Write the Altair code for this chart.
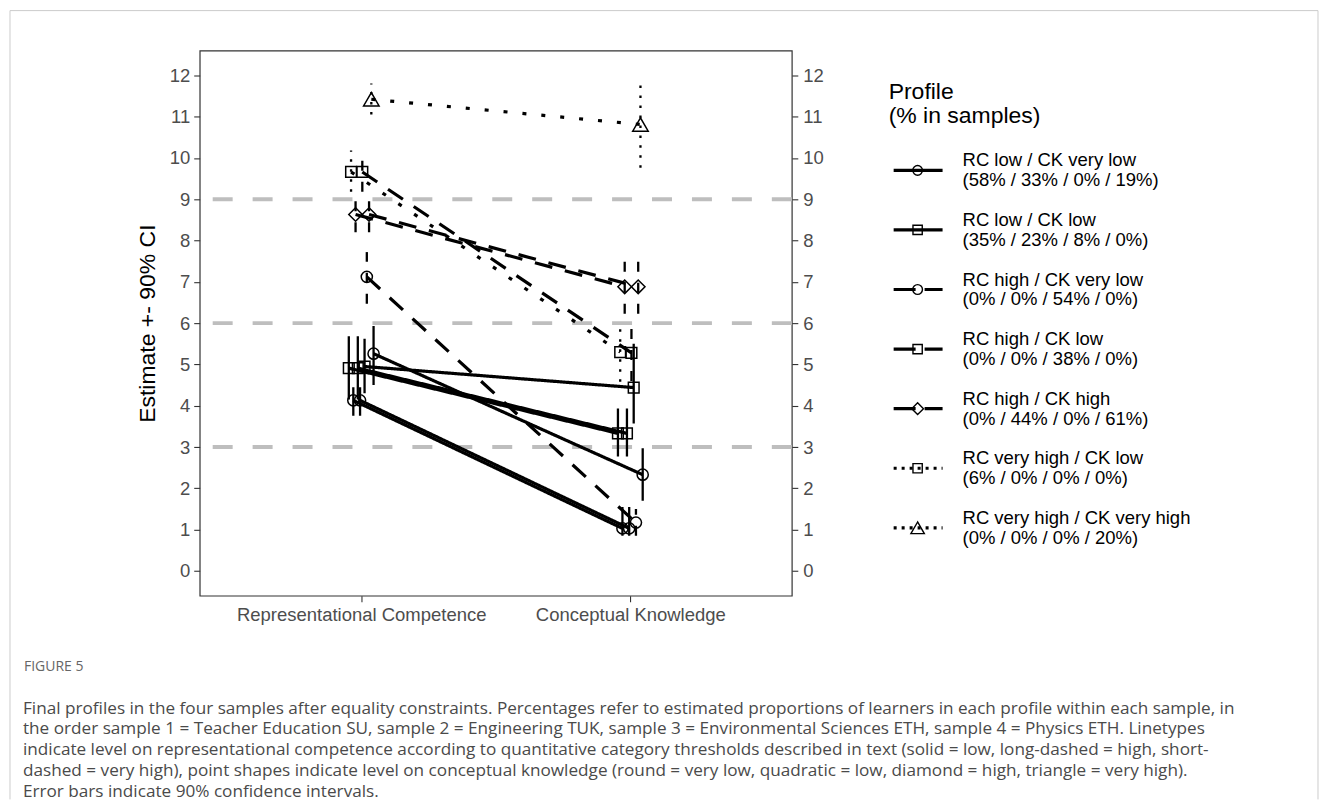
import altair as alt
import pandas as pd

# ---------------- data ----------------
measures = ["Representational Competence", "Conceptual Knowledge"]
profiles = [
    "RC low / CK very low",
    "RC low / CK low",
    "RC high / CK very low",
    "RC high / CK low",
    "RC high / CK high",
    "RC very high / CK low",
    "RC very high / CK very high",
]
profile_pct = [
    "(58% / 33% / 0% / 19%)",
    "(35% / 23% / 8% / 0%)",
    "(0% / 0% / 54% / 0%)",
    "(0% / 0% / 38% / 0%)",
    "(0% / 44% / 0% / 61%)",
    "(6% / 0% / 0% / 0%)",
    "(0% / 0% / 0% / 20%)",
]
profile_rc = ["low", "low", "high", "high", "high", "very high", "very high"]
profile_ck = ["very low", "low", "very low", "low", "high", "low", "very high"]

# one entry per profile x sample group (in dodge order)
grp_profile = [1, 5, 0, 4, 1, 0, 3, 1, 2, 4, 6, 0]
grp_sample = [1, 1, 1, 2, 2, 2, 3, 3, 3, 4, 4, 4]
rc_est = [4.91, 9.66, 4.13, 8.63, 4.91, 4.13, 9.66, 4.95, 7.12, 8.63, 11.42, 5.26]
rc_lo = [4.15, 9.18, 3.76, 8.20, 4.15, 3.76, 9.18, 4.30, 6.47, 8.20, 11.05, 4.50]
rc_hi = [5.68, 10.18, 4.45, 9.05, 5.68, 4.45, 10.15, 5.62, 7.72, 9.05, 11.80, 5.93]
ck_est = [3.33, 5.30, 1.03, 6.88, 3.33, 1.03, 5.28, 4.44, 1.17, 6.88, 10.81, 2.33]
ck_lo = [2.77, 4.58, 0.85, 6.23, 2.77, 0.85, 4.60, 3.57, 0.85, 6.23, 9.76, 1.70]
ck_hi = [3.93, 5.95, 1.55, 7.56, 3.93, 1.55, 6.00, 5.50, 1.50, 7.56, 11.86, 2.97]

thresholds = [3, 6, 9]
y_ticks = list(range(0, 13))
y_title = "Estimate +- 90% CI"
legend_title = ["Profile", "(% in samples)"]
caption_head = "FIGURE 5"
caption_lines = [
    "Final profiles in the four samples after equality constraints. Percentages refer to estimated proportions of learners in each profile within each sample, in",
    "the order sample 1 = Teacher Education SU, sample 2 = Engineering TUK, sample 3 = Environmental Sciences ETH, sample 4 = Physics ETH. Linetypes",
    "indicate level on representational competence according to quantitative category thresholds described in text (solid = low, long-dashed = high, short-",
    "dashed = very high), point shapes indicate level on conceptual knowledge (round = very low, quadratic = low, diamond = high, triangle = very high).",
    "Error bars indicate 90% confidence intervals.",
]

# ---------------- tables ----------------
rows = []
for i in range(len(grp_profile)):
    p = grp_profile[i]
    for m, est, lo, hi in [
        (measures[0], rc_est[i], rc_lo[i], rc_hi[i]),
        (measures[1], ck_est[i], ck_lo[i], ck_hi[i]),
    ]:
        rows.append(dict(group=f"g{i:02d}", slot=i, sample=grp_sample[i],
                         profile=profiles[p], rc=profile_rc[p], ck=profile_ck[p],
                         measure=m, est=est, lo=lo, hi=hi))
df = pd.DataFrame(rows)
thr_df = pd.DataFrame({"value": thresholds})
leg_df = pd.DataFrame({
    "profile": profiles,
    "text": [f"{a}\n{b}" for a, b in zip(profiles, profile_pct)],
    "rc": profile_rc,
    "ck": profile_ck,
})
cap_df = pd.DataFrame({"head": [caption_head], "text": ["\n".join(caption_lines)]})
one = pd.DataFrame({"k": [0]})

# ---------------- styles ----------------
FONT = "Liberation Sans"
CAPFONT = "Open Sans"
RC_LEVELS = ["low", "high", "very high"]
CK_LEVELS = ["very low", "low", "high", "very high"]
LINE_DASH = {"low": [1, 0], "high": [18, 13], "very high": [4, 15]}
BAR_DASH = {"low": [1, 0], "high": [10, 11], "very high": [2.5, 7.5]}
KEY_DASH = {"low": [1, 0], "high": [22, 9], "very high": [3, 5]}
SHAPE = {"very low": "circle", "low": "square", "high": "diamond", "very high": "triangle-up"}
SIZE = {"very low": 125, "low": 115, "high": 185, "very high": 240}

W, H = 593, 546
yscale = alt.Scale(domain=[-0.6, 12.6], nice=False, zero=False)

x_axis = alt.Axis(title=None, labelAngle=0, labelFont=FONT, labelFontSize=18.5,
                  labelColor="#4d4d4d", tickColor="#333333", tickWidth=1.1,
                  tickSize=6, labelPadding=4, labelLimit=500, domain=False, grid=False)


def X():
    return alt.X("measure:N", sort=measures,
                 scale=alt.Scale(type="point", padding=0.6), axis=x_axis)


XO = alt.XOffset("slot:O", scale=alt.Scale(type="point", padding=0, range=[-12.4, 12.4]))

ax_left = alt.Axis(orient="left", values=y_ticks, title=y_title, titleFont=FONT,
                   titleFontSize=23, titleFontWeight="normal", titleColor="black",
                   titlePadding=10, labelFont=FONT, labelFontSize=18.5,
                   labelColor="#4d4d4d", labelPadding=4, tickColor="#333333",
                   tickSize=6, tickWidth=1.1, domain=False, grid=False, format="d")
ax_right = alt.Axis(orient="right", values=y_ticks, title=None, labelFont=FONT,
                    labelFontSize=18.5, labelColor="#4d4d4d", labelPadding=5,
                    tickColor="#333333", tickSize=6, tickWidth=1.1, domain=False,
                    grid=False, format="d")


def Y(field):
    return alt.Y(f"{field}:Q", scale=yscale, axis=ax_left)


# ---------------- main panel (+ figure frame and caption) ----------------
FRAME = dict(stroke="#cccccc", strokeWidth=1)
frame_left = alt.Chart(one).mark_rule(**FRAME).encode(
    x=alt.value(-190), y=alt.value(-40), y2=alt.value(750))
frame_right = alt.Chart(one).mark_rule(**FRAME).encode(
    x=alt.value(1120), y=alt.value(-40), y2=alt.value(750))
frame_top = alt.Chart(one).mark_rule(**FRAME).encode(
    x=alt.value(-190), x2=alt.value(1120), y=alt.value(-40))

cap_head = alt.Chart(cap_df).mark_text(
    align="left", baseline="middle", font=CAPFONT, fontSize=14, color="#666666"
).encode(x=alt.value(-176), y=alt.value(617), text="head:N")

cap_text = alt.Chart(cap_df).mark_text(
    align="left", baseline="middle", font=CAPFONT, fontSize=17.2, color="#4a4a4a",
    lineBreak="\n", lineHeight=20.8
).encode(x=alt.value(-177), y=alt.value(659), text="text:N")

thr = alt.Chart(thr_df).mark_rule(color="#bebebe", strokeWidth=4, strokeDash=[20, 20]).encode(
    y=Y("value"))

layers = [frame_left, frame_right, frame_top, cap_head, cap_text, thr]
for lvl in RC_LEVELS:
    layers.append(
        alt.Chart(df).transform_filter(alt.datum.rc == lvl)
        .mark_rule(stroke="black", strokeWidth=2.3, strokeDash=BAR_DASH[lvl])
        .encode(x=X(), xOffset=XO, y=Y("lo"), y2="hi:Q")
    )
for lvl in RC_LEVELS:
    layers.append(
        alt.Chart(df).transform_filter(alt.datum.rc == lvl)
        .mark_line(stroke="black", strokeWidth=3.2, strokeDash=LINE_DASH[lvl], strokeCap="butt")
        .encode(x=X(), xOffset=XO, y=Y("est"), detail="group:N")
    )
for lvl in CK_LEVELS:
    layers.append(
        alt.Chart(df).transform_filter(alt.datum.ck == lvl)
        .mark_point(shape=SHAPE[lvl], size=SIZE[lvl], filled=False, stroke="black",
                    strokeWidth=1.5, opacity=1)
        .encode(x=X(), xOffset=XO, y=Y("est"))
    )

inner = alt.layer(*layers)
right_axis = alt.Chart(thr_df).mark_rule(opacity=0).encode(
    y=alt.Y("value:Q", scale=yscale, axis=ax_right))

main = alt.layer(inner, right_axis).resolve_axis(y="independent").properties(
    width=W, height=H,
    view=alt.ViewBackground(stroke="#333333", strokeWidth=1.2, strokeOpacity=1))

# ---------------- legend ----------------
LY = alt.Y("profile:N", sort=profiles,
           scale=alt.Scale(type="point", padding=0, range=[120, 478]), axis=None)
leg_layers = [
    alt.Chart(pd.DataFrame({"t": ["\n".join(legend_title)]}))
    .mark_text(align="left", baseline="alphabetic", font=FONT, fontSize=23,
               lineBreak="\n", lineHeight=24, color="black")
    .encode(x=alt.value(8), y=alt.value(49), text="t:N")
]
for lvl in RC_LEVELS:
    leg_layers.append(
        alt.Chart(leg_df).transform_filter(alt.datum.rc == lvl)
        .mark_rule(stroke="black", strokeWidth=3.2, strokeDash=KEY_DASH[lvl])
        .encode(x=alt.value(13), x2=alt.value(62), y=LY)
    )
for lvl in CK_LEVELS:
    leg_layers.append(
        alt.Chart(leg_df).transform_filter(alt.datum.ck == lvl)
        .mark_point(shape=SHAPE[lvl], size=SIZE[lvl] * 0.75, filled=False,
                    stroke="black", strokeWidth=1.4, opacity=1)
        .encode(x=alt.value(37), y=LY)
    )
leg_layers.append(
    alt.Chart(leg_df).mark_text(align="left", baseline="middle", font=FONT,
                                fontSize=18.5, lineBreak="\n", lineHeight=20,
                                color="black", dy=-10)
    .encode(x=alt.value(82), y=LY, text="text:N")
)
legend = alt.layer(*leg_layers).properties(
    width=420, height=H, view=alt.ViewBackground(strokeOpacity=0))

chart = alt.hconcat(main, legend, spacing=89, bounds="flush").properties(
    padding={"left": 0, "top": 0, "right": 0, "bottom": 0}
).configure(background="white").configure_view(strokeOpacity=0)

chart.save("out.html", embed_options={"renderer": "svg", "actions": False})
